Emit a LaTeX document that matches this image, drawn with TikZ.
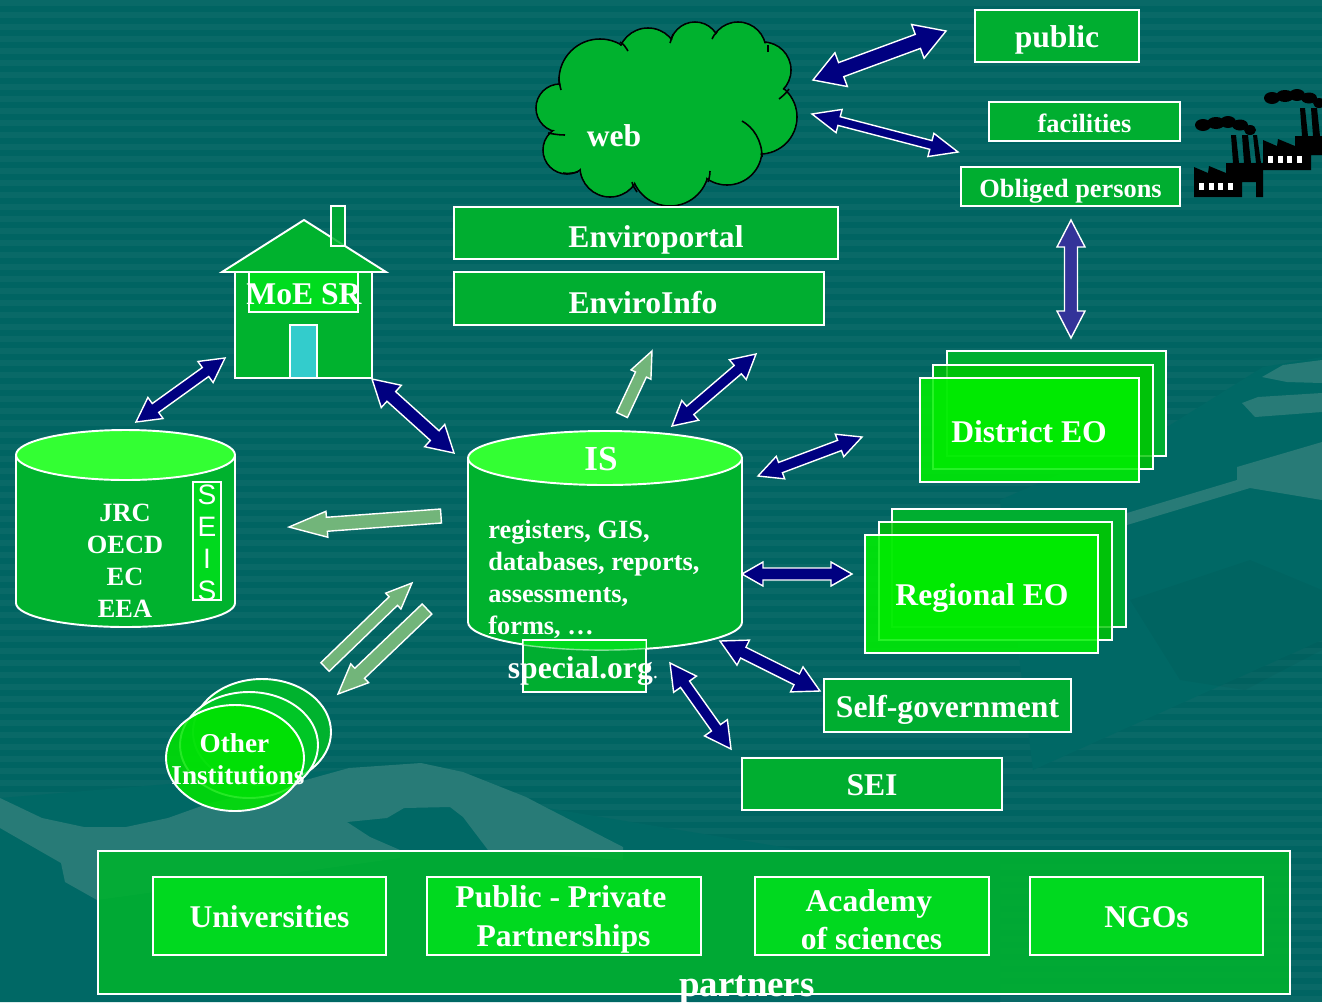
\documentclass[tikz,border=0pt]{standalone}
\usepackage{fontspec}
\setmainfont{Liberation Serif}
\setsansfont{Liberation Sans}
\usetikzlibrary{calc}

\definecolor{seabase}{HTML}{006462}
\definecolor{seaplain}{HTML}{006865}
\definecolor{ridge}{HTML}{287B77}
\definecolor{boxgreen}{HTML}{00B22E}
\definecolor{brightgreen}{HTML}{00DC1E}
\definecolor{lidgreen}{HTML}{33FF33}
\definecolor{paleshaft}{HTML}{72B57A}
\definecolor{navyshaft}{HTML}{000080}
\definecolor{indigoshaft}{HTML}{333399}
\definecolor{doorcyan}{HTML}{33CCCC}

\tikzset{
	sized/.style 2 args={minimum width=#1*0.02cm,minimum height=#2*0.02cm,inner sep=0pt},
	bigtext/.style={text=white,font=\fontsize{18}{22}\selectfont\bfseries,align=center},
	midtext/.style={text=white,font=\fontsize{15}{18.14}\selectfont\bfseries},
	oneline/.style={text height=13.6pt,text depth=0pt},
	greenbox/.style={draw=white,line width=1.1pt,fill=boxgreen,fill opacity=0.95,text opacity=1,bigtext,oneline},
	brightbox/.style={greenbox,fill=brightgreen},
	lidfill/.style={draw=white,line width=1.1pt,fill=lidgreen},
	drumfill/.style={draw=white,line width=1.1pt,fill=boxgreen},
	navyarrow/.style={draw=white,line width=0.8pt,fill=navyshaft,line join=miter},
	indigoarrow/.style={navyarrow,fill=indigoshaft},
	palearrow/.style={navyarrow,fill=paleshaft},
	puffline/.style={draw=black,line width=0.9pt,fill=none},
	factory/.pic={
		\fill[black] (1194,197) -- (1194,167) -- (1208,173) -- (1209,166) -- (1226,173) -- (1226,163) -- (1233,163) -- (1231,135) -- (1236,135) -- (1239,163) -- (1244,163) -- (1242,135) -- (1248,135) -- (1251,163) -- (1256,163) -- (1253,135) -- (1257,135) -- (1261,163) -- (1263,163) -- (1263,197) -- (1256,197) -- (1256,182) -- (1242,182) -- (1242,197) -- cycle;
		\foreach \xwin in {1199,1209,1218,1228}
		\fill[white] (\xwin,183) rectangle ++(5,7);
		\fill[black] (1203,125) ellipse (8 and 6);
		\fill[black] (1216,123) ellipse (9 and 6);
		\fill[black] (1228,122) ellipse (8 and 6);
		\fill[black] (1240,125) ellipse (8 and 5.5);
		\fill[black] (1250,130) ellipse (6 and 5);
	}
}

% fat arrows between two named coordinates: shaft half, head length, head half
\newcommand{\biarrow}[6][navyarrow]{
	\draw[#1] (#2) -- ($(#2)!#5*0.02cm!(#3)!#6*0.02cm!90:(#3)$) -- ($(#2)!#5*0.02cm!(#3)!#4*0.02cm!90:(#3)$)
	-- ($(#3)!#5*0.02cm!(#2)!-#4*0.02cm!90:(#2)$) -- ($(#3)!#5*0.02cm!(#2)!-#6*0.02cm!90:(#2)$) -- (#3)
	-- ($(#3)!#5*0.02cm!(#2)!#6*0.02cm!90:(#2)$) -- ($(#3)!#5*0.02cm!(#2)!#4*0.02cm!90:(#2)$)
	-- ($(#2)!#5*0.02cm!(#3)!-#4*0.02cm!90:(#3)$) -- ($(#2)!#5*0.02cm!(#3)!-#6*0.02cm!90:(#3)$) -- cycle;
}
\newcommand{\onearrow}[5]{
	\draw[palearrow] ($(#1)!#2*0.02cm!90:(#5)$) -- ($(#5)!#3*0.02cm!(#1)!-#2*0.02cm!90:(#1)$) -- ($(#5)!#3*0.02cm!(#1)!-#4*0.02cm!90:(#1)$) -- (#5)
	-- ($(#5)!#3*0.02cm!(#1)!#4*0.02cm!90:(#1)$) -- ($(#5)!#3*0.02cm!(#1)!#2*0.02cm!90:(#1)$) -- ($(#1)!-#2*0.02cm!90:(#5)$) -- cycle;
}

\begin{document}
\begin{tikzpicture}[x=0.02cm,y=-0.02cm]
	\useasboundingbox (0,0) rectangle (1322,1002);
	\clip (0,0) rectangle (1322,1002);

	% background
	\fill[seabase] (0,0) rectangle (1322,1002);
	\foreach \ystripe in {0,12,...,996}
	\fill[white,opacity=0.035] (0,\ystripe) rectangle (1322,\ystripe+6);
	\fill[seaplain] (0,798) -- (421,763) -- (547,808) -- (800,850) -- (1000,850) -- (1000,1002) -- (0,1002) -- cycle;
	\fill[seaplain] (1000,500) -- (1167,427) -- (1263,367) -- (1322,357) -- (1322,640) -- (1033,770) -- cycle;
	\fill[black,opacity=0.035] (1130,600) -- (1250,560) -- (1322,590) -- (1322,650) -- (1245,690) -- (1180,680) -- cycle;

	% mountains
	\fill[ridge] (0,798) -- (42,818) -- (84,827) -- (126,827) -- (168,818) -- (210,803) -- (295,783) -- (349,768) -- (421,763) -- (463,772) -- (526,797) -- (547,808) -- (623,847) -- (623,860) -- (488,850) -- (463,817) -- (450,807) -- (404,808) -- (387,818) -- (347,822) -- (370,837) -- (400,850) -- (400,858) -- (97,900) -- (65,882) -- (61,863) -- (0,828) -- cycle;
	\fill[ridge] (1262,377) -- (1283,365) -- (1322,360) -- (1322,383) -- (1287,382) -- cycle;
	\fill[ridge] (1242,403) -- (1258,397) -- (1322,393) -- (1322,412) -- (1255,417) -- cycle;
	\fill[ridge] (1127,513) -- (1237,480) -- (1237,467) -- (1322,442) -- (1322,500) -- (1250,488) -- (1127,525) -- cycle;

	% web
	\fill[boxgreen] (665,110) ellipse (105 and 70);
	\foreach \xpuff/\ypuff/\rpuff in {600/80/41,560/108/24,567/150/24,610/167/30,670/167/39,727/150/35,760/117/37,763/70/28,738/50/28,695/47/25,648/58/30}
	\draw[line width=0.9pt,fill=boxgreen] (\xpuff,\ypuff) circle (\rpuff);
	\foreach \xpuff/\ypuff/\rpuff in {600/80/41,560/108/24,567/150/24,610/167/30,670/167/39,727/150/35,760/117/37,763/70/28,738/50/28,695/47/25,648/58/30}
	\fill[boxgreen] (\xpuff,\ypuff) circle (\rpuff-1.2);
	\fill[boxgreen] (665,110) ellipse (105 and 70);
	\draw[puffline] (620,42) .. controls (624,44) and (626,48) .. (628,51);
	\draw[puffline] (559,77) .. controls (559,82) and (560,86) .. (561,90);
	\draw[puffline] (548,133) .. controls (553,134) and (559,135) .. (565,135);
	\draw[puffline] (563,173) .. controls (568,174) and (573,173) .. (578,172);
	\draw[puffline] (632,182) .. controls (633,186) and (635,189) .. (637,192);
	\draw[puffline] (710,171) .. controls (710,175) and (709,179) .. (708,182);
	\draw[puffline] (742,121) .. controls (753,127) and (762,140) .. (762,157);
	\draw[puffline] (779,99) .. controls (783,96) and (787,92) .. (789,89);
	\draw[puffline] (768,52) .. controls (768,49) and (768,47) .. (768,45);
	\draw[puffline] (712,39) .. controls (713,36) and (715,34) .. (717,32);
	\draw[puffline] (670,43) .. controls (671,40) and (672,37) .. (673,34);
	\node[bigtext,oneline] (webname) at (614,135) {web};

	% factories
	\pic at (0,0) {factory};
	\pic at (69,-27) {factory};

	% top boxes
	\node[greenbox,sized={164}{52}] (public) at (1057,36) {public};
	\node[greenbox,midtext,text height=12pt,sized={191}{39}] (facilities) at (1084.5,121.5) {facilities};
	\node[greenbox,midtext,text height=12pt,sized={219}{39}] (obliged) at (1070.5,186.5) {Obliged persons};
	\node[greenbox,sized={384}{52}] (enviroportal) at (646,233) {};
	\node[bigtext,oneline] (enviroportalname) at (656,236) {Enviroportal};
	\node[greenbox,sized={370}{53}] (enviroinfo) at (639,298.5) {};
	\node[bigtext,oneline] (enviroinfoname) at (643,302) {EnviroInfo};

	% MoE
	\fill[boxgreen] (235,272) rectangle (372,378);
	\draw[white,line width=1.1pt,fill=boxgreen] (222,272) -- (304,220) -- (386,272) -- cycle;
	\draw[white,line width=1.1pt,fill=boxgreen,fill opacity=0.85] (331,206) rectangle (345,246);
	\draw[white,line width=1.1pt] (235,272) rectangle (372,378);
	\draw[white,line width=1.1pt,fill=brightgreen] (249,272) rectangle (358,312);
	\draw[white,line width=1.1pt,fill=doorcyan] (290,325) rectangle (317,378);
	\node[bigtext,oneline] (moename) at (304,293) {MoE SR};

	% IS drum
	\draw[drumfill] (468,458) -- (468,622) arc[start angle=180,end angle=360,x radius=137,y radius=-28] -- (742,458) -- cycle;
	\draw[lidfill] (605,458) ellipse (137 and 27);
	\node[bigtext,oneline,font=\fontsize{20}{24}\selectfont\bfseries] (isname) at (601,459) {IS};
	\node[midtext,anchor=north west,align=left,inner sep=0pt] (isbody) at (488,520) {registers, GIS,\\databases, reports,\\assessments,\\forms, \ldots};
	\node[greenbox,sized={123}{52}] (specialbox) at (584.5,666) {};
	\fill[brightgreen] (523.5,641) -- (645.5,641) -- (645.5,648.5) .. controls (610,651) and (570,651) .. (523.5,645) -- cycle;
	\draw[white,opacity=0.5,line width=0.8pt] (523.5,645) .. controls (570,651) and (610,651) .. (645.5,648.5);
	\node[bigtext,oneline] (specialname) at (583,667) {special.org{\normalfont\fontsize{12}{14}\selectfont .}};

	% partners drum
	\draw[drumfill] (16,455) -- (16,603) arc[start angle=180,end angle=360,x radius=109.5,y radius=-24] -- (235,455) -- cycle;
	\draw[lidfill] (125.5,455) ellipse (109.5 and 25);
	\node[midtext,align=center,inner sep=0pt] (drumbody) at (125,560.5) {JRC\\OECD\\EC\\EEA};
	\node[brightbox,sized={28}{118}] (seisbox) at (207,541) {};
	\node[text=white,font=\fontsize{16}{18.1}\selectfont\sffamily,align=center,inner sep=0pt] (seisname) at (207,543) {S\\E\\I\\S};

	% district and regional offices
	\node[greenbox,sized={219}{105}] (districtback) at (1056.5,403.5) {};
	\node[brightbox,fill=green!78!black,sized={220}{104},fill opacity=0.8] (districtmid) at (1043,417) {};
	\node[brightbox,fill=green!95!black,sized={219}{104},fill opacity=0.85] (districtfront) at (1029.5,430) {};
	\node[bigtext,oneline] (districtname) at (1029,431) {District EO};
	\node[greenbox,sized={234}{118}] (regionalback) at (1009,568) {};
	\node[brightbox,fill=green!78!black,sized={233}{118},fill opacity=0.8] (regionalmid) at (995.5,581) {};
	\node[brightbox,fill=green!95!black,sized={233}{118},fill opacity=0.85] (regionalfront) at (981.5,594) {};
	\node[bigtext,oneline] (regionalname) at (982,594) {Regional EO};
	\node[greenbox,sized={247}{53}] (selfgov) at (947.5,705.5) {Self-government};
	\node[greenbox,sized={260}{52}] (sei) at (872,784) {SEI};

	% other institutions
	\draw[white,line width=1.1pt,fill=boxgreen] (262,732) ellipse (69 and 53);
	\draw[white,line width=1.1pt,fill=brightgreen!60!boxgreen,fill opacity=0.8] (249,745) ellipse (69 and 53);
	\draw[white,line width=1.1pt,fill=green!90!black,fill opacity=0.85] (235,758) ellipse (69 and 53);
	\node[midtext,font=\fontsize{15.5}{18.14}\selectfont\bfseries,align=center,inner sep=0pt] (othername) at (238,759) {Other\hspace*{4pt}\\Institutions};

	% partners
	\node[greenbox,sized={1192}{143},fill opacity=0.88] (partnerbox) at (694,922.5) {};
	\node[brightbox,sized={233}{78}] (universities) at (269.5,916) {Universities};
	\node[brightbox,sized={274}{78}] (publicprivate) at (564,916) {};
	\node[bigtext] (publicprivatename) at (563.5,919.5) {Public - Private\hspace*{3pt}\\Partnerships};
	\node[brightbox,sized={234}{78}] (academy) at (872,916) {};
	\node[bigtext] (academyname) at (871.5,919.5) {Academy\hspace*{3pt}\\of sciences};
	\node[brightbox,sized={233}{78}] (ngos) at (1146.5,916) {NGOs};
	\node[bigtext,oneline,font=\fontsize{21}{24}\selectfont\bfseries] (partnername) at (747,985) {partners};

	% arrow ends
	\coordinate (webpublicA) at (813,80);
	\coordinate (webpublicB) at (946,31);
	\coordinate (webfacilA) at (812,114);
	\coordinate (webfacilB) at (958,152);
	\coordinate (obligedA) at (1071,220);
	\coordinate (obligedB) at (1071,338);
	\coordinate (drumhouseA) at (136,422);
	\coordinate (drumhouseB) at (225,358);
	\coordinate (houseisA) at (372,379);
	\coordinate (houseisB) at (454,453);
	\coordinate (isinfoA) at (622,415);
	\coordinate (isinfoB) at (652,351);
	\coordinate (ischanA) at (672,426);
	\coordinate (ischanB) at (756,354);
	\coordinate (isdistA) at (758,476);
	\coordinate (isdistB) at (862,437);
	\coordinate (isregA) at (742,574);
	\coordinate (isregB) at (852,574);
	\coordinate (isselfA) at (720,641);
	\coordinate (isselfB) at (820,691);
	\coordinate (isseiA) at (670,663);
	\coordinate (isseiB) at (731,749);
	\coordinate (isdrumA) at (441,516);
	\coordinate (isdrumB) at (289,527);
	\coordinate (otherupA) at (325,667);
	\coordinate (otherupB) at (412,583);
	\coordinate (otherdownA) at (427,609);
	\coordinate (otherdownB) at (338,694);

	\biarrow{webpublicA}{webpublicB}{7.5}{30}{18}
	\biarrow{webfacilA}{webfacilB}{4.5}{28}{12}
	\biarrow[indigoarrow]{obligedA}{obligedB}{6.5}{27}{14}
	\biarrow{drumhouseA}{drumhouseB}{5.5}{24}{13}
	\biarrow{houseisA}{houseisB}{6.5}{26}{15}
	\biarrow{ischanA}{ischanB}{5.5}{24}{13}
	\biarrow{isdistA}{isdistB}{5.5}{24}{12}
	\biarrow{isregA}{isregB}{6}{21}{12}
	\biarrow{isselfA}{isselfB}{6}{26}{14}
	\biarrow{isseiA}{isseiB}{5.5}{26}{14}
	\onearrow{isinfoA}{6}{26}{11}{isinfoB}
	\onearrow{isdrumA}{7}{38}{13}{isdrumB}
	\onearrow{otherupA}{6}{26}{11}{otherupB}
	\onearrow{otherdownA}{7}{30}{13}{otherdownB}
\end{tikzpicture}
\end{document}
